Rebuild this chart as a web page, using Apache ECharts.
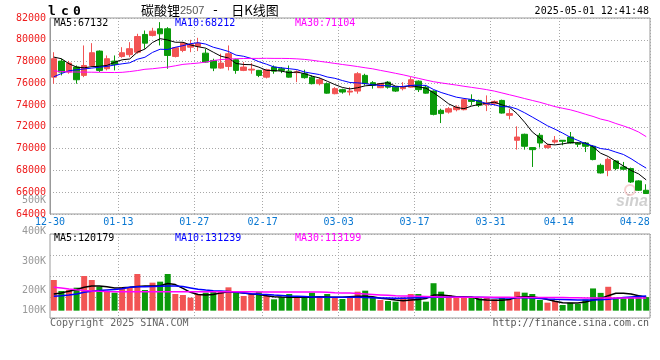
<!DOCTYPE html>
<html><head><meta charset="utf-8">
<script src="https://cdn.jsdelivr.net/npm/echarts@6/dist/echarts.min.js"></script>
<style>html,body{margin:0;padding:0;background:#fff}#c{width:660px;height:360px}</style>
</head><body><div id="c"></div><script>
// ---------- data ----------
const dates = ['12-30','12-31','01-02','01-03','01-06','01-07','01-08','01-09','01-10','01-13','01-14','01-15','01-16','01-17','01-20','01-21','01-22','01-23','01-24','01-27','02-05','02-06','02-07','02-10','02-11','02-12','02-13','02-14','02-17','02-18','02-19','02-20','02-21','02-24','02-25','02-26','02-27','02-28','03-03','03-04','03-05','03-06','03-07','03-10','03-11','03-12','03-13','03-14','03-17','03-18','03-19','03-20','03-21','03-24','03-25','03-26','03-27','03-28','03-31','04-01','04-02','04-03','04-07','04-08','04-09','04-10','04-11','04-14','04-15','04-16','04-17','04-18','04-21','04-22','04-23','04-24','04-25','04-28','04-29'];
const xTickLabels = ['12-30','01-13','01-27','02-17','03-03','03-17','03-31','04-14','04-28'];
const volTickLabels = ['500K','400K','300K','200K','100K'];

const opens = [76570,78040,77030,77490,76730,77640,78960,77340,78040,78470,78630,78860,80490,80400,81010,81010,78470,79020,79320,79390,78770,78100,77400,77550,78170,77190,77220,77190,76570,77490,77340,77120,76980,76880,76570,75970,75970,75050,75420,75200,75290,76730,76060,75600,76110,75650,75510,75650,76200,75650,75290,73520,73360,73580,73580,74500,74430,74040,74130,74430,73060,70770,71320,70100,71230,70100,70610,70770,71070,70520,70520,70220,68470,68020,68870,68320,68170,67040,66180];
const closes = [78260,77030,77860,76330,77640,78810,77190,78260,77740,78810,79180,80300,79690,80790,80550,78560,79270,79690,79570,79690,77950,77400,77860,78720,77190,77490,77300,76730,77250,77120,77190,76570,77060,76520,75970,76330,75100,75510,75200,75290,76880,75970,75810,75970,75650,75290,75650,76330,75420,75100,73150,73220,73670,73820,74500,74340,73980,74190,74340,73270,73220,71070,70220,69910,70520,70310,70770,70680,70520,70400,70220,69000,67770,69020,68170,68110,66940,66180,65880];
const lows = [75970,76730,76880,75970,76570,77490,77030,77190,77190,78350,78400,78720,79180,80300,79480,77340,78380,78860,78860,78960,77900,77120,77340,77190,76880,77120,76880,76570,76450,76880,76940,76520,76110,76430,75900,75810,75050,74990,75050,74890,75050,75810,75510,75560,75510,75210,75350,75600,75200,75050,73060,72350,73220,73430,73520,73980,73820,73450,73980,73220,72690,69910,69910,68320,70100,70010,70460,70310,70460,70150,69690,68930,67710,67470,68020,68020,66850,66120,65880];
const highs = [78860,78260,78060,77640,79480,79690,79020,78560,78560,79320,79780,80550,80850,81100,81620,81160,79340,79780,80000,80180,79180,78260,78720,79480,78260,77950,77860,77230,77340,77640,77490,77640,77190,77250,76730,76520,76090,75650,75510,75650,77030,76880,76200,76020,76200,75720,76110,76570,76270,75810,75350,73670,73820,73980,74590,74990,74500,74890,74430,74500,73670,72050,71380,70100,71440,70460,71160,70790,71530,70610,70610,70310,68630,69180,68930,68780,68260,67100,66730];

const ma5 = [78410,78260,77800,77490,77424,77534,77566,77646,77928,78162,78236,78858,79144,79754,80102,79978,79772,79772,79528,79356,79234,78860,78494,78324,77824,77732,77712,77486,77192,77178,77118,76972,77038,76892,76662,76490,76196,75886,75622,75486,75596,75770,75830,75984,76056,75738,75674,75778,75668,75558,75130,74644,74112,73792,73672,73910,74062,74166,74270,74024,73800,73218,72424,71538,70988,70406,70346,70438,70560,70536,70518,70164,69582,69282,68836,68414,68002,67684,67132];
const ma10 = [76600,76900,77150,77250,77320,77400,77480,77560,77680,77793,77885,78212,78395,78841,79132,79107,79315,79458,79641,79729,79606,79316,79133,78926,78590,78483,78286,77990,77758,77501,77425,77342,77262,77042,76920,76804,76584,76462,76257,76074,76043,75983,75858,75803,75771,75667,75722,75804,75826,75807,75434,75159,74945,74730,74615,74520,74353,74139,74031,73848,73855,73640,73295,72904,72506,72103,71782,71431,71049,70762,70462,70255,70010,69921,69686,69466,69083,68633,68212];
const ma30 = [77150,77080,77050,77040,77030,77020,77010,77000,76990,77010,77080,77170,77290,77340,77420,77490,77610,77740,77800,77860,77950,78090,78180,78230,78260,78280,78290,78290,78300,78290,78290,78280,78250,78200,78120,78020,77930,77830,77730,77640,77540,77430,77330,77190,77060,76920,76780,76620,76460,76300,76150,76040,75940,75840,75730,75630,75530,75420,75290,75120,74950,74780,74600,74430,74260,74060,73860,73710,73570,73380,73160,72960,72720,72560,72310,72090,71840,71530,71104];

const volumes = [276000,177000,186000,207000,312000,276000,216000,177000,162000,210000,207000,330000,186000,252000,261000,330000,150000,141000,117000,150000,162000,177000,177000,210000,171000,132000,150000,171000,132000,102000,121000,150000,121000,132000,162000,121000,150000,120000,105000,120000,171000,180000,117000,96000,87000,81000,120000,150000,150000,81000,247000,171000,141000,120000,120000,120000,111000,120000,102000,120000,96000,171000,162000,150000,96000,72000,87000,51000,72000,60000,100000,200000,160000,215000,118000,112000,118000,135000,122000];
const volMa5 = [150000,160000,175000,190000,210000,222000,222000,215000,205000,207000,210000,218000,222000,222000,225000,245000,235000,200000,165000,145000,140000,145000,160000,170000,165000,160000,150000,145000,135000,125000,122000,120000,120000,120000,120000,125000,122000,120000,120000,125000,130000,130000,125000,112000,105000,95000,90000,95000,100000,110000,140000,140000,135000,126000,126000,124000,100000,95000,93000,93000,100000,120000,126000,126000,115000,100000,85000,72000,68000,69000,78000,95000,111000,135000,156000,156000,150000,135000,120179];
const volMa10 = [130000,135000,141000,150000,165000,175000,182000,186000,190000,198000,210000,215000,216000,218000,220000,222000,222000,218000,205000,192000,185000,180000,176000,172000,168000,160000,152000,148000,145000,140000,136000,132000,130000,128000,124000,122000,120000,120000,120000,120000,120000,119000,117000,115000,113000,111000,112000,114000,116000,118000,120000,120000,120000,120000,120000,120000,120000,118000,116000,115000,115000,116000,117000,115000,110000,105000,102000,100000,98000,96000,96000,97000,98000,103000,110000,118000,124000,128000,131239];
const volMa30 = [210000,203000,195000,188000,182000,177000,174000,172000,171000,171000,171000,171000,171000,171000,171000,171000,171000,171000,171000,171000,171000,171000,171000,170000,170000,170000,170000,169000,169000,169000,168000,168000,168000,168000,168000,167000,165000,162000,160000,158000,154000,150000,146000,142000,138000,134000,132000,131000,130000,128000,126000,124000,122000,121000,120000,120000,120000,120000,120000,120000,120000,119000,119000,119000,119000,118000,118000,118000,116000,116000,115000,115000,115000,114000,114000,114000,113500,113300,113199];

// ---------- styling / layout ----------
const MONO = "'DejaVu Sans Mono', 'Liberation Mono', monospace";
const UP = '#f25454', DOWN = '#0a9a0a';
const C5 = '#000000', C10 = '#0000ff', C30 = '#ff00ff';
const last = a => a[a.length - 1];
const labelSet = new Set(xTickLabels);
const gridSet = new Set(xTickLabels.slice(1, -1));

const chart = echarts.init(document.getElementById('c'));

function xAxisFor(gi, showLabel) {
  return {
    type: 'category', gridIndex: gi, data: dates, boundaryGap: true,
    axisLine: { show: false }, axisTick: { show: false },
    axisLabel: {
      show: showLabel, interval: (i, v) => labelSet.has(v),
      color: '#0a78d2', fontFamily: MONO, fontSize: 10, margin: 3,
      padding: [0, 7.6, 0, 0]
    },
    splitLine: { show: true, interval: (i, v) => gridSet.has(v),
      lineStyle: { type: [1, 2], color: '#a8a8a8', width: 1 } }
  };
}

const candleData = dates.map((d, i) => [opens[i], closes[i], lows[i], highs[i]]);
const volData = volumes.map((v, i) => ({ value: v,
  itemStyle: { color: closes[i] >= opens[i] ? UP : DOWN } }));

function lineSeries(data, color, xi, yi, w) {
  return { type: 'line', data, xAxisIndex: xi, yAxisIndex: yi, symbol: 'none',
    silent: true, lineStyle: { color, width: w }, z: 3 };
}

const volLabelY = [200, 231, 261, 290, 310];
const T = (text, x, y, fill, font, align) => ({ type: 'text', x, y, silent: true, z: 100,
  style: { text, fill, font, align: align || 'left', verticalAlign: 'middle' } });

const graphics = [
  T('l', 52, 11.5, '#000', 'bold 13px ' + MONO, 'center'),
  T('c', 65, 11.5, '#000', 'bold 13px ' + MONO, 'center'),
  T('0', 77, 11.5, '#000', 'bold 13px ' + MONO, 'center'),
  { type: 'text', x: 141, y: 10.5, silent: true, z: 100,
    style: { text: '{a|碳酸锂}{b|2507}{c|-}{a|日K线图}', verticalAlign: 'middle',
      rich: { a: { font: "13px 'Noto Sans CJK SC'", fill: '#000' },
              b: { font: "11px 'Liberation Sans'", fill: '#555' },
              c: { font: "13px 'DejaVu Sans Mono'", fill: '#000', padding: [0, 12, 0, 7] } } } },
  T('2025-05-01 12:41:48', 649, 11.7, '#000', '10px ' + MONO, 'right'),
  T('MA5:' + last(ma5), 54, 23.5, C5, '10px ' + MONO),
  T('MA10:' + last(ma10), 175, 23.5, C10, '10px ' + MONO),
  T('MA30:' + last(ma30), 295, 23.5, C30, '10px ' + MONO),
  T('MA5:' + last(volMa5), 54, 238, C5, '10px ' + MONO),
  T('MA10:' + last(volMa10), 175, 238, C10, '10px ' + MONO),
  T('MA30:' + last(volMa30), 295, 238, C30, '10px ' + MONO),
  T('Copyright 2025 SINA.COM', 50, 323.5, '#666', '10px ' + MONO),
  T('http://finance.sina.com.cn', 649, 323.5, '#555', '10px ' + MONO, 'right'),
  { type: 'circle', shape: { cx: 630, cy: 190, r: 5 }, silent: true, z: 1,
    style: { fill: 'none', stroke: 'rgba(230,120,120,0.35)', lineWidth: 2 } },
  T('sina', 648, 202, 'rgba(150,150,150,0.45)', 'italic bold 16px sans-serif', 'right')
].concat(volTickLabels.map((t, k) => T(t, 46, volLabelY[k], '#999', '10px ' + MONO, 'right')));

chart.setOption({
  animation: false,
  backgroundColor: '#fff',
  grid: [
    { left: 50, right: 10, top: 18, height: 196, show: true, borderColor: '#999', borderWidth: 1, backgroundColor: 'transparent' },
    { left: 50, right: 10, top: 234, height: 84, show: true, borderColor: '#999', borderWidth: 1, backgroundColor: 'transparent' }
  ],
  xAxis: [xAxisFor(0, true), xAxisFor(1, false)],
  yAxis: [
    { type: 'value', gridIndex: 0, min: 64000, max: 82000, interval: 2000,
      axisLine: { show: true, lineStyle: { color: '#999' } }, axisTick: { show: false },
      axisLabel: { color: '#ee1c1c', fontFamily: MONO, fontSize: 10, margin: 4, formatter: v => String(v) },
      splitLine: { show: true, lineStyle: { type: [1, 2], color: '#a8a8a8' } } },
    { type: 'value', gridIndex: 1, min: -66000, max: 690000, show: false, splitLine: { show: false } },
    { type: 'value', gridIndex: 1, min: 0, max: 4, interval: 1,
      axisLine: { show: false }, axisTick: { show: false }, axisLabel: { show: false },
      splitLine: { show: true, lineStyle: { type: [1, 2], color: '#a8a8a8' } } }
  ],
  series: [
    { type: 'candlestick', data: candleData, xAxisIndex: 0, yAxisIndex: 0, barWidth: 6, silent: true,
      itemStyle: { color: UP, color0: DOWN, borderColor: UP, borderColor0: DOWN, borderWidth: 1 } },
    lineSeries(ma5, C5, 0, 0, 1),
    lineSeries(ma10, C10, 0, 0, 1),
    lineSeries(ma30, C30, 0, 0, 1),
    { type: 'bar', data: volData, xAxisIndex: 1, yAxisIndex: 1, barWidth: 6, silent: true },
    lineSeries(volMa5, C5, 1, 1, 1.5),
    lineSeries(volMa10, C10, 1, 1, 1.5),
    lineSeries(volMa30, C30, 1, 1, 1.5)
  ],
  graphic: graphics
});
</script></body></html>
